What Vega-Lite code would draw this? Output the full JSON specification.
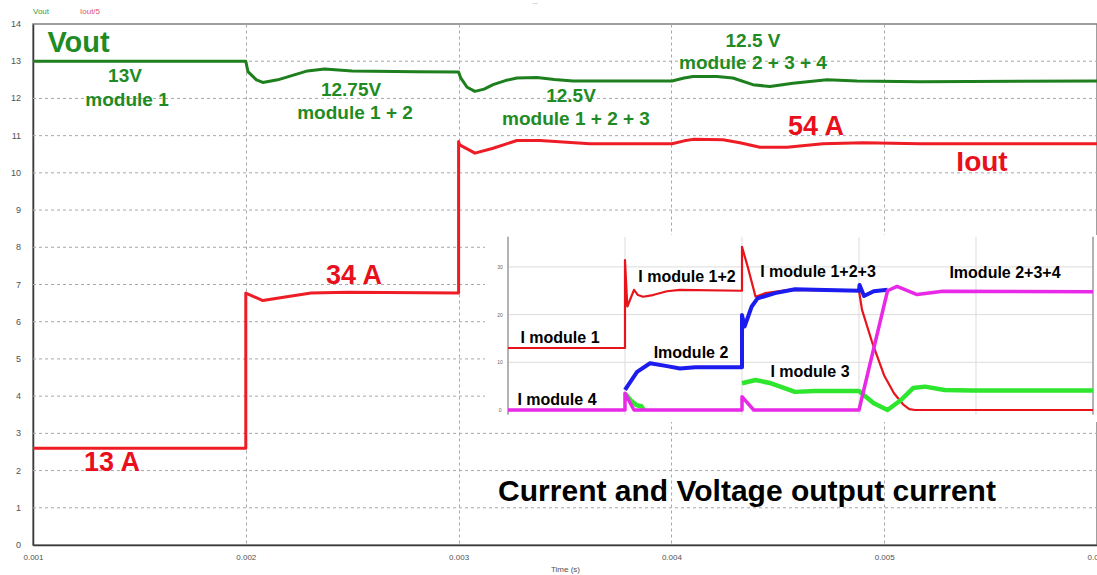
{
  "$schema": "https://vega.github.io/schema/vega-lite/v6.json",
  "width": 1064,
  "height": 521,
  "autosize": "none",
  "padding": {"left": 33, "top": 24, "right": 0, "bottom": 30},
  "background": "white",
  "config": {"view": {"stroke": "#808080", "strokeWidth": 1.5}, "font": "Liberation Sans"},
  "datasets": {
    "yticks": [
      {"v": 0, "label": "0"}, {"v": 1, "label": "1"}, {"v": 2, "label": "2"}, {"v": 3, "label": "3"}, {"v": 4, "label": "4"},
      {"v": 5, "label": "5"}, {"v": 6, "label": "6"}, {"v": 7, "label": "7"}, {"v": 8, "label": "8"}, {"v": 9, "label": "9"},
      {"v": 10, "label": "10"}, {"v": 11, "label": "11"}, {"v": 12, "label": "12"}, {"v": 13, "label": "13"}, {"v": 14, "label": "14"}
    ],
    "vout": [
      {"t": 0.001, "v": 13.0}, {"t": 0.002, "v": 13.0}, {"t": 0.00201, "v": 12.72}, {"t": 0.00205, "v": 12.5},
      {"t": 0.00208, "v": 12.43}, {"t": 0.00215, "v": 12.5}, {"t": 0.00222, "v": 12.62}, {"t": 0.00229, "v": 12.74},
      {"t": 0.00237, "v": 12.79}, {"t": 0.0025, "v": 12.74}, {"t": 0.0028, "v": 12.72}, {"t": 0.003, "v": 12.71},
      {"t": 0.00301, "v": 12.55}, {"t": 0.00304, "v": 12.3}, {"t": 0.003077, "v": 12.19}, {"t": 0.00312, "v": 12.25},
      {"t": 0.003162, "v": 12.37}, {"t": 0.00322, "v": 12.48}, {"t": 0.003274, "v": 12.55}, {"t": 0.003368, "v": 12.56},
      {"t": 0.00345, "v": 12.51}, {"t": 0.003538, "v": 12.47}, {"t": 0.003758, "v": 12.47}, {"t": 0.004003, "v": 12.47},
      {"t": 0.00406, "v": 12.55}, {"t": 0.004102, "v": 12.59}, {"t": 0.004214, "v": 12.59}, {"t": 0.004289, "v": 12.55},
      {"t": 0.004383, "v": 12.37}, {"t": 0.004463, "v": 12.32}, {"t": 0.004571, "v": 12.41}, {"t": 0.004731, "v": 12.5},
      {"t": 0.004872, "v": 12.47}, {"t": 0.005168, "v": 12.45}, {"t": 0.006, "v": 12.47}
    ],
    "iout": [
      {"t": 0.001, "v": 2.6}, {"t": 0.002, "v": 2.6}, {"t": 0.002, "v": 6.77}, {"t": 0.00208, "v": 6.57},
      {"t": 0.0022, "v": 6.68}, {"t": 0.002307, "v": 6.77}, {"t": 0.002481, "v": 6.79}, {"t": 0.003, "v": 6.77},
      {"t": 0.003, "v": 10.84}, {"t": 0.003005, "v": 10.75}, {"t": 0.003077, "v": 10.53}, {"t": 0.003162, "v": 10.66},
      {"t": 0.003274, "v": 10.87}, {"t": 0.003382, "v": 10.87}, {"t": 0.003617, "v": 10.78}, {"t": 0.004003, "v": 10.78},
      {"t": 0.00406, "v": 10.86}, {"t": 0.004102, "v": 10.9}, {"t": 0.004242, "v": 10.89}, {"t": 0.004322, "v": 10.81},
      {"t": 0.004416, "v": 10.69}, {"t": 0.004543, "v": 10.69}, {"t": 0.004712, "v": 10.78}, {"t": 0.0049, "v": 10.81},
      {"t": 0.005168, "v": 10.78}, {"t": 0.006, "v": 10.78}
    ],
    "notes": [
      {"t": 0.001, "v": 14.33, "text": "Vout", "role": "legV"},
      {"t": 0.001221, "v": 14.33, "text": "Iout/5", "role": "legI"},
      {"t": 0.003359, "v": 14.57, "text": "---", "role": "dash"},
      {"t": 0.0012139, "v": 13.49, "text": "Vout", "role": "vbig"},
      {"t": 0.0054596, "v": 10.27, "text": "Iout", "role": "ibig"},
      {"t": 0.0014323, "v": 12.61, "text": "13V", "role": "vnote"},
      {"t": 0.0014417, "v": 11.96, "text": "module 1", "role": "vnote"},
      {"t": 0.0024944, "v": 12.23, "text": "12.75V", "role": "vnote"},
      {"t": 0.0025132, "v": 11.61, "text": "module 1 + 2", "role": "vnote"},
      {"t": 0.0035282, "v": 12.07, "text": "12.5V", "role": "vnote"},
      {"t": 0.0035517, "v": 11.45, "text": "module 1 + 2 + 3", "role": "vnote"},
      {"t": 0.0043835, "v": 13.55, "text": "12.5 V", "role": "vnote"},
      {"t": 0.0043835, "v": 12.96, "text": "module 2 + 3 + 4", "role": "vnote"},
      {"t": 0.0046795, "v": 11.24, "text": "54 A", "role": "inote"},
      {"t": 0.0025085, "v": 7.23, "text": "34 A", "role": "inote"},
      {"t": 0.0013712, "v": 2.2, "text": "13 A", "role": "inote"},
      {"t": 0.0043553, "v": 1.42, "text": "Current and Voltage output current", "role": "caption"}
    ],
    "inset": [
      {"t": 0.001, "v": 13, "m": "I1"}, {"t": 0.002, "v": 13, "m": "I1"}, {"t": 0.002, "v": 31.4, "m": "I1"},
      {"t": 0.00202, "v": 21.7, "m": "I1"}, {"t": 0.002077, "v": 25.2, "m": "I1"}, {"t": 0.002111, "v": 24.1, "m": "I1"},
      {"t": 0.002154, "v": 23.75, "m": "I1"}, {"t": 0.002239, "v": 24.1, "m": "I1"}, {"t": 0.002359, "v": 24.9, "m": "I1"},
      {"t": 0.00247, "v": 25.2, "m": "I1"}, {"t": 0.003, "v": 25.0, "m": "I1"}, {"t": 0.003, "v": 34.2, "m": "I1"},
      {"t": 0.003049, "v": 30.0, "m": "I1"}, {"t": 0.003116, "v": 23.75, "m": "I1"}, {"t": 0.0032, "v": 24.5, "m": "I1"},
      {"t": 0.0034, "v": 25.2, "m": "I1"}, {"t": 0.004, "v": 25.0, "m": "I1"}, {"t": 0.004026, "v": 21.0, "m": "I1"},
      {"t": 0.004111, "v": 14.3, "m": "I1"}, {"t": 0.004214, "v": 7.3, "m": "I1"}, {"t": 0.004299, "v": 3.5, "m": "I1"},
      {"t": 0.004376, "v": 1.2, "m": "I1"}, {"t": 0.00443, "v": 0.2, "m": "I1"}, {"t": 0.004479, "v": 0, "m": "I1"},
      {"t": 0.006, "v": 0, "m": "I1"},

      {"t": 0.002, "v": 4.2, "m": "I2"},
      {"t": 0.002103, "v": 8.0, "m": "I2"}, {"t": 0.002214, "v": 9.8, "m": "I2"}, {"t": 0.002359, "v": 9.2, "m": "I2"},
      {"t": 0.00247, "v": 8.7, "m": "I2"}, {"t": 0.0026, "v": 8.95, "m": "I2"}, {"t": 0.003, "v": 8.95, "m": "I2"},
      {"t": 0.003, "v": 19.9, "m": "I2"}, {"t": 0.003022, "v": 17.5, "m": "I2"}, {"t": 0.003083, "v": 21.7, "m": "I2"},
      {"t": 0.003133, "v": 23.4, "m": "I2"}, {"t": 0.003282, "v": 24.5, "m": "I2"}, {"t": 0.003453, "v": 25.3, "m": "I2"},
      {"t": 0.00362, "v": 25.2, "m": "I2"}, {"t": 0.004, "v": 25.0, "m": "I2"}, {"t": 0.004005, "v": 26.2, "m": "I2"},
      {"t": 0.004043, "v": 23.9, "m": "I2"}, {"t": 0.004126, "v": 24.9, "m": "I2"}, {"t": 0.004244, "v": 25.2, "m": "I2"},

      {"t": 0.002, "v": 3.5, "m": "I3a"},
      {"t": 0.00205, "v": 2.0, "m": "I3a"}, {"t": 0.0021, "v": 1.0, "m": "I3a"}, {"t": 0.00214, "v": 0.8, "m": "I3a"},
      {"t": 0.00216, "v": 0, "m": "I3a"},
      {"t": 0.003, "v": 5.6, "m": "I3b"},
      {"t": 0.003116, "v": 6.3, "m": "I3b"}, {"t": 0.003248, "v": 5.6, "m": "I3b"}, {"t": 0.003453, "v": 3.8, "m": "I3b"},
      {"t": 0.00362, "v": 4.0, "m": "I3b"}, {"t": 0.004, "v": 4.0, "m": "I3b"}, {"t": 0.004126, "v": 1.4, "m": "I3b"},
      {"t": 0.004244, "v": 0, "m": "I3b"}, {"t": 0.004359, "v": 2.1, "m": "I3b"}, {"t": 0.004462, "v": 4.6, "m": "I3b"},
      {"t": 0.004564, "v": 4.9, "m": "I3b"}, {"t": 0.004732, "v": 4.2, "m": "I3b"}, {"t": 0.004966, "v": 4.1, "m": "I3b"},
      {"t": 0.006, "v": 4.1, "m": "I3b"},

      {"t": 0.001, "v": 0, "m": "I4"}, {"t": 0.002, "v": 0, "m": "I4"}, {"t": 0.002, "v": 3.5, "m": "I4"},
      {"t": 0.002077, "v": 0, "m": "I4"}, {"t": 0.003, "v": 0, "m": "I4"}, {"t": 0.003, "v": 2.8, "m": "I4"},
      {"t": 0.0031, "v": 0, "m": "I4"}, {"t": 0.004, "v": 0, "m": "I4"}, {"t": 0.004244, "v": 25.0, "m": "I4"},
      {"t": 0.004325, "v": 25.9, "m": "I4"}, {"t": 0.004496, "v": 24.2, "m": "I4"}, {"t": 0.004718, "v": 24.9, "m": "I4"},
      {"t": 0.006, "v": 24.8, "m": "I4"}
    ],
    "insetNotes": [
      {"t": 0.0025299, "v": 27.88, "text": "I module 1+2"},
      {"t": 0.0014444, "v": 15.09, "text": "I module 1"},
      {"t": 0.0025641, "v": 11.95, "text": "Imodule 2"},
      {"t": 0.0014188, "v": 2.1, "text": "I module 4"},
      {"t": 0.0036496, "v": 28.93, "text": "I module 1+2+3"},
      {"t": 0.0035812, "v": 8.03, "text": "I module 3"},
      {"t": 0.0052479, "v": 28.72, "text": "Imodule 2+3+4"}
    ],
    "insetTicks": [
      {"v": 0, "label": "0"}, {"v": 10, "label": "10"}, {"v": 20, "label": "20"}, {"v": 30, "label": "30"}
    ],
    "insetVgrid": [
      {"t": 0.002}, {"t": 0.003}, {"t": 0.004}, {"t": 0.005}
    ]
  },
  "layer": [
    {
      "layer": [
        {
          "data": {"name": "yticks"},
          "transform": [{"filter": "datum.v > 0 && datum.v < 14"}],
          "mark": {"type": "rule", "color": "#a8a8a8", "strokeDash": [3, 3], "strokeWidth": 1},
          "encoding": {
            "x": {"datum": 0.001, "type": "quantitative",
              "scale": {"domain": [0.001, 0.006], "nice": false, "zero": false},
              "axis": {"values": [0.001, 0.002, 0.003, 0.004, 0.005, 0.006], "format": ".3f", "title": "Time (s)",
                "labelFlush": false, "labelOverlap": false, "ticks": false, "grid": true, "gridColor": "#a8a8a8",
                "gridDash": [3, 3], "gridWidth": 1, "domainColor": "#3a3a3a", "domainWidth": 1.5,
                "labelFontSize": 8, "labelColor": "#505050", "labelPadding": 8, "labelFont": "Liberation Sans",
                "titleFontSize": 8, "titleFontWeight": "normal", "titleColor": "#505050", "titlePadding": 4, "titleFont": "Liberation Sans"}},
            "x2": {"datum": 0.006},
            "y": {"field": "v", "type": "quantitative",
              "scale": {"domain": [0, 14], "nice": false, "zero": false},
              "axis": {"title": null, "ticks": false, "labels": false, "grid": false,
                "domainColor": "#3a3a3a", "domainWidth": 1.5}}
          }
        },
        {
          "data": {"name": "yticks"},
          "mark": {"type": "text", "align": "right", "baseline": "middle", "dx": -12, "fontSize": 9, "color": "#505050", "font": "Liberation Sans"},
          "encoding": {
            "x": {"datum": 0.001, "type": "quantitative", "scale": {"domain": [0.001, 0.006], "nice": false, "zero": false}},
            "y": {"field": "v", "type": "quantitative", "scale": {"domain": [0, 14], "nice": false, "zero": false}},
            "text": {"field": "label"}
          }
        },
        {
          "data": {"name": "vout"},
          "mark": {"type": "line", "color": "#1d7f1d", "strokeWidth": 3, "strokeJoin": "round"},
          "encoding": {
            "x": {"field": "t", "type": "quantitative", "scale": {"domain": [0.001, 0.006], "nice": false, "zero": false}},
            "y": {"field": "v", "type": "quantitative", "scale": {"domain": [0, 14], "nice": false, "zero": false}},
            "order": {"value": null}
          }
        },
        {
          "data": {"name": "iout"},
          "mark": {"type": "line", "color": "#ee1c24", "strokeWidth": 3, "strokeJoin": "round"},
          "encoding": {
            "x": {"field": "t", "type": "quantitative", "scale": {"domain": [0.001, 0.006], "nice": false, "zero": false}},
            "y": {"field": "v", "type": "quantitative", "scale": {"domain": [0, 14], "nice": false, "zero": false}},
            "order": {"value": null}
          }
        },
        {
          "data": {"name": "notes"},
          "transform": [{"filter": "datum.role == 'vbig'"}],
          "mark": {"type": "text", "fontSize": 29, "fontWeight": "bold", "color": "#1f8b24", "font": "Liberation Sans"},
          "encoding": {
            "x": {"field": "t", "type": "quantitative", "scale": {"domain": [0.001, 0.006], "nice": false, "zero": false}},
            "y": {"field": "v", "type": "quantitative", "scale": {"domain": [0, 14], "nice": false, "zero": false}},
            "text": {"field": "text"}
          }
        },
        {
          "data": {"name": "notes"},
          "transform": [{"filter": "datum.role == 'ibig'"}],
          "mark": {"type": "text", "fontSize": 28, "fontWeight": "bold", "color": "#e8101c", "font": "Liberation Sans"},
          "encoding": {
            "x": {"field": "t", "type": "quantitative", "scale": {"domain": [0.001, 0.006], "nice": false, "zero": false}},
            "y": {"field": "v", "type": "quantitative", "scale": {"domain": [0, 14], "nice": false, "zero": false}},
            "text": {"field": "text"}
          }
        },
        {
          "data": {"name": "notes"},
          "transform": [{"filter": "datum.role == 'vnote'"}],
          "mark": {"type": "text", "fontSize": 19, "fontWeight": "bold", "color": "#1f8b24", "font": "Liberation Sans"},
          "encoding": {
            "x": {"field": "t", "type": "quantitative", "scale": {"domain": [0.001, 0.006], "nice": false, "zero": false}},
            "y": {"field": "v", "type": "quantitative", "scale": {"domain": [0, 14], "nice": false, "zero": false}},
            "text": {"field": "text"}
          }
        },
        {
          "data": {"name": "notes"},
          "transform": [{"filter": "datum.role == 'inote'"}],
          "mark": {"type": "text", "fontSize": 27, "fontWeight": "bold", "color": "#e8101c", "font": "Liberation Sans"},
          "encoding": {
            "x": {"field": "t", "type": "quantitative", "scale": {"domain": [0.001, 0.006], "nice": false, "zero": false}},
            "y": {"field": "v", "type": "quantitative", "scale": {"domain": [0, 14], "nice": false, "zero": false}},
            "text": {"field": "text"}
          }
        },
        {
          "data": {"name": "notes"},
          "transform": [{"filter": "datum.role == 'caption'"}],
          "mark": {"type": "text", "fontSize": 30, "fontWeight": "bold", "color": "#000000", "font": "Liberation Sans"},
          "encoding": {
            "x": {"field": "t", "type": "quantitative", "scale": {"domain": [0.001, 0.006], "nice": false, "zero": false}},
            "y": {"field": "v", "type": "quantitative", "scale": {"domain": [0, 14], "nice": false, "zero": false}},
            "text": {"field": "text"}
          }
        },
        {
          "data": {"name": "notes"},
          "transform": [{"filter": "datum.role == 'legV'"}],
          "mark": {"type": "text", "fontSize": 8, "align": "left", "color": "#3a9a3a", "font": "Liberation Sans"},
          "encoding": {
            "x": {"field": "t", "type": "quantitative", "scale": {"domain": [0.001, 0.006], "nice": false, "zero": false}},
            "y": {"field": "v", "type": "quantitative", "scale": {"domain": [0, 14], "nice": false, "zero": false}},
            "text": {"field": "text"}
          }
        },
        {
          "data": {"name": "notes"},
          "transform": [{"filter": "datum.role == 'legI'"}],
          "mark": {"type": "text", "fontSize": 8, "align": "left", "color": "#e0506a", "font": "Liberation Sans"},
          "encoding": {
            "x": {"field": "t", "type": "quantitative", "scale": {"domain": [0.001, 0.006], "nice": false, "zero": false}},
            "y": {"field": "v", "type": "quantitative", "scale": {"domain": [0, 14], "nice": false, "zero": false}},
            "text": {"field": "text"}
          }
        },
        {
          "data": {"name": "notes"},
          "transform": [{"filter": "datum.role == 'dash'"}],
          "mark": {"type": "text", "fontSize": 5, "color": "#888888", "font": "Liberation Sans"},
          "encoding": {
            "x": {"field": "t", "type": "quantitative", "scale": {"domain": [0.001, 0.006], "nice": false, "zero": false}},
            "y": {"field": "v", "type": "quantitative", "scale": {"domain": [0, 14], "nice": false, "zero": false}},
            "text": {"field": "text"}
          }
        }
      ]
    },
    {
      "layer": [
        {
          "data": {"values": [{}]},
          "mark": {"type": "rect", "color": "white", "opacity": 1},
          "encoding": {
            "x": {"datum": 0.000803, "type": "quantitative", "scale": {"domain": [-0.0030598, 0.0060342], "nice": false, "zero": false}, "axis": null},
            "x2": {"datum": 0.0060342},
            "y": {"datum": -2.5, "type": "quantitative", "scale": {"domain": [-28.3, 80.92], "nice": false, "zero": false}, "axis": null},
            "y2": {"datum": 36.7}
          }
        },
        {
          "data": {"name": "insetTicks"},
          "transform": [{"filter": "datum.v > 0"}],
          "mark": {"type": "rule", "color": "#dcdcdc", "strokeWidth": 1},
          "encoding": {
            "x": {"datum": 0.001, "type": "quantitative", "scale": {"domain": [-0.0030598, 0.0060342], "nice": false, "zero": false}, "axis": null},
            "x2": {"datum": 0.006},
            "y": {"field": "v", "type": "quantitative", "scale": {"domain": [-28.3, 80.92], "nice": false, "zero": false}, "axis": null}
          }
        },
        {
          "data": {"name": "insetVgrid"},
          "mark": {"type": "rule", "color": "#dcdcdc", "strokeWidth": 1},
          "encoding": {
            "x": {"field": "t", "type": "quantitative", "scale": {"domain": [-0.0030598, 0.0060342], "nice": false, "zero": false}, "axis": null},
            "y": {"datum": -1.0, "type": "quantitative", "scale": {"domain": [-28.3, 80.92], "nice": false, "zero": false}, "axis": null},
            "y2": {"datum": 36.3}
          }
        },
        {
          "data": {"values": [{"t": 0.001}, {"t": 0.006}]},
          "mark": {"type": "rule", "color": "#9a9a9a", "strokeWidth": 1.5},
          "encoding": {
            "x": {"field": "t", "type": "quantitative", "scale": {"domain": [-0.0030598, 0.0060342], "nice": false, "zero": false}, "axis": null},
            "y": {"datum": -1.0, "type": "quantitative", "scale": {"domain": [-28.3, 80.92], "nice": false, "zero": false}, "axis": null},
            "y2": {"datum": 36.3}
          }
        },
        {
          "data": {"name": "insetTicks"},
          "mark": {"type": "text", "fontSize": 5, "color": "#666666", "font": "Liberation Sans"},
          "encoding": {
            "x": {"datum": 0.000932, "type": "quantitative", "scale": {"domain": [-0.0030598, 0.0060342], "nice": false, "zero": false}, "axis": null},
            "y": {"field": "v", "type": "quantitative", "scale": {"domain": [-28.3, 80.92], "nice": false, "zero": false}, "axis": null},
            "text": {"field": "label"}
          }
        },
        {
          "data": {"name": "inset"},
          "transform": [{"filter": "datum.m == 'I1'"}],
          "mark": {"type": "line", "color": "#e8141c", "strokeWidth": 2.2, "strokeJoin": "round"},
          "encoding": {
            "x": {"field": "t", "type": "quantitative", "scale": {"domain": [-0.0030598, 0.0060342], "nice": false, "zero": false}, "axis": null},
            "y": {"field": "v", "type": "quantitative", "scale": {"domain": [-28.3, 80.92], "nice": false, "zero": false}, "axis": null},
            "order": {"value": null}
          }
        },
        {
          "data": {"name": "inset"},
          "transform": [{"filter": "datum.m == 'I2'"}],
          "mark": {"type": "line", "color": "#1c1cee", "strokeWidth": 4, "strokeJoin": "round"},
          "encoding": {
            "x": {"field": "t", "type": "quantitative", "scale": {"domain": [-0.0030598, 0.0060342], "nice": false, "zero": false}, "axis": null},
            "y": {"field": "v", "type": "quantitative", "scale": {"domain": [-28.3, 80.92], "nice": false, "zero": false}, "axis": null},
            "order": {"value": null}
          }
        },
        {
          "data": {"name": "inset"},
          "transform": [{"filter": "datum.m == 'I3a' || datum.m == 'I3b'"}],
          "mark": {"type": "line", "color": "#2ee62e", "strokeWidth": 4.5, "strokeJoin": "round"},
          "encoding": {
            "x": {"field": "t", "type": "quantitative", "scale": {"domain": [-0.0030598, 0.0060342], "nice": false, "zero": false}, "axis": null},
            "y": {"field": "v", "type": "quantitative", "scale": {"domain": [-28.3, 80.92], "nice": false, "zero": false}, "axis": null},
            "detail": {"field": "m"},
            "order": {"value": null}
          }
        },
        {
          "data": {"name": "inset"},
          "transform": [{"filter": "datum.m == 'I4'"}],
          "mark": {"type": "line", "color": "#e829e8", "strokeWidth": 3.5, "strokeJoin": "round"},
          "encoding": {
            "x": {"field": "t", "type": "quantitative", "scale": {"domain": [-0.0030598, 0.0060342], "nice": false, "zero": false}, "axis": null},
            "y": {"field": "v", "type": "quantitative", "scale": {"domain": [-28.3, 80.92], "nice": false, "zero": false}, "axis": null},
            "order": {"value": null}
          }
        },
        {
          "data": {"name": "insetNotes"},
          "mark": {"type": "text", "fontSize": 16, "fontWeight": "bold", "color": "#000000", "font": "Liberation Sans"},
          "encoding": {
            "x": {"field": "t", "type": "quantitative", "scale": {"domain": [-0.0030598, 0.0060342], "nice": false, "zero": false}, "axis": null},
            "y": {"field": "v", "type": "quantitative", "scale": {"domain": [-28.3, 80.92], "nice": false, "zero": false}, "axis": null},
            "text": {"field": "text"}
          }
        }
      ]
    }
  ],
  "resolve": {"scale": {"x": "independent", "y": "independent"}}
}
